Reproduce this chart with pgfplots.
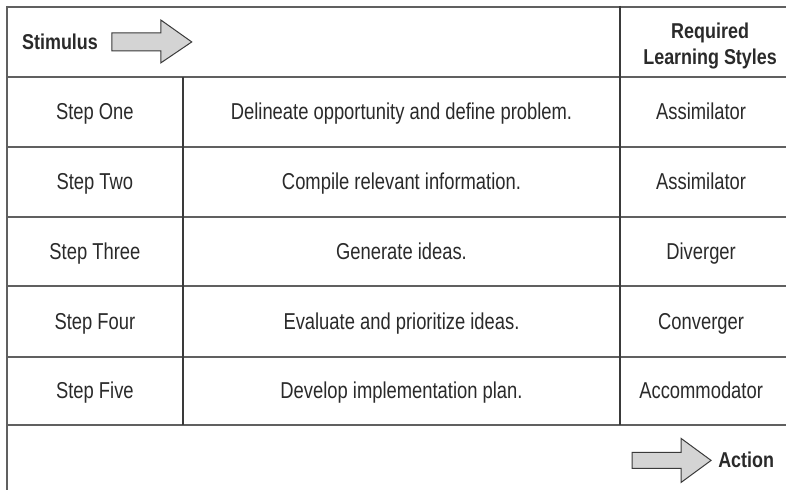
\documentclass[border=0pt]{standalone}
\usepackage{fontspec}
\setmainfont[FakeStretch=0.80]{Liberation Sans}
\newfontfamily\hdrfont[FakeStretch=0.835]{Liberation Sans}
\usepackage{pgfplots}
\pgfplotsset{compat=1.18}
\definecolor{txt}{HTML}{2A2A2A}
\definecolor{rule}{HTML}{606060}
\definecolor{vrule}{HTML}{3A3A3A}
\definecolor{arrowfill}{HTML}{D4D4D4}
\tikzset{cell/.style={text=txt, anchor=base, font=\fontsize{23}{27}\selectfont},
  hdr/.style={text=txt, anchor=base, inner sep=0pt, font=\hdrfont\fontsize{21.5}{25}\selectfont\bfseries}}
\begin{document}
\begin{tikzpicture}
\begin{axis}[
  width=787pt, height=491pt, scale only axis,
  xmin=0, xmax=787, ymin=0, ymax=491, y dir=reverse,
  hide axis, clip=false,
]
\addplot[draw=none, fill=white, forget plot] coordinates {(0,0) (787,0) (787,491) (0,491)} -- cycle;
% horizontal rules
\addplot[rule, line width=2pt] coordinates {(7,7) (787,7)};
\addplot[rule, line width=2pt] coordinates {(7,77) (787,77)};
\addplot[rule, line width=2pt] coordinates {(7,147) (787,147)};
\addplot[rule, line width=2pt] coordinates {(7,217) (787,217)};
\addplot[rule, line width=2pt] coordinates {(7,286) (787,286)};
\addplot[rule, line width=2pt] coordinates {(7,357) (787,357)};
\addplot[rule, line width=2pt] coordinates {(7,426) (787,426)};
% vertical rules
\addplot[rule, line width=2pt] coordinates {(7,6) (7,491)};
\addplot[vrule, line width=1.5pt] coordinates {(183,77) (183,426)};
\addplot[vrule, line width=1.5pt] coordinates {(621,6) (621,426)};
% stimulus arrow
\addplot[draw=vrule, line width=1pt, fill=arrowfill] coordinates {(112,33) (161,33) (161,20) (192,42) (161,63) (161,51) (112,51)} -- cycle;
% action arrow
\addplot[draw=vrule, line width=1pt, fill=arrowfill] coordinates {(633,453) (682,453) (682,439) (712,461) (682,483) (682,469) (633,469)} -- cycle;
% header
\node[hdr, anchor=base west] at (axis cs:22,49.3) {Stimulus};
\node[hdr] at (axis cs:711,38.3) {Required};
\node[hdr] at (axis cs:711,65) {Learning Styles};
\node[hdr, anchor=base west] at (axis cs:719,468.3) {Action};
% rows
\node[cell] at (axis cs:95,120) {Step One};
\node[cell] at (axis cs:402,120) {Delineate opportunity and define problem.};
\node[cell] at (axis cs:702,120) {Assimilator};
\node[cell] at (axis cs:95,190) {Step Two};
\node[cell] at (axis cs:402,190) {Compile relevant information.};
\node[cell] at (axis cs:702,190) {Assimilator};
\node[cell] at (axis cs:95,259.5) {Step Three};
\node[cell] at (axis cs:402,259.5) {Generate ideas.};
\node[cell] at (axis cs:702,259.5) {Diverger};
\node[cell] at (axis cs:95,329.5) {Step Four};
\node[cell] at (axis cs:402,329.5) {Evaluate and prioritize ideas.};
\node[cell] at (axis cs:702,329.5) {Converger};
\node[cell] at (axis cs:95,399.5) {Step Five};
\node[cell] at (axis cs:402,399.5) {Develop implementation plan.};
\node[cell] at (axis cs:702,399.5) {Accommodator};
\end{axis}
\end{tikzpicture}
\end{document}
